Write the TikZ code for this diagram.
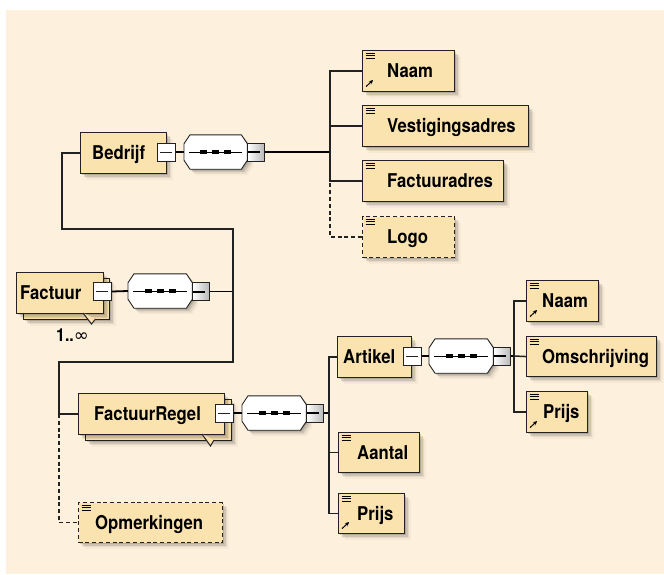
\documentclass[tikz,border=0pt]{standalone}
\usepackage{fontspec}
\setmainfont{TeX Gyre Heros}[FakeStretch=0.88]
\newfontfamily\dvsans{DejaVu Sans}
\usetikzlibrary{shadows,arrows.meta}

\definecolor{paper}{RGB}{253,240,220}
\definecolor{elfill}{RGB}{251,227,176}
\definecolor{edge}{RGB}{34,34,34}

% three short bars in the top-left corner of a simple element
\newcommand\elLines{\foreach \k in {3,5.3,7.6}{\draw[solid,line width=0.9pt,black]
  ([xshift=3pt,yshift=-\k pt]path picture bounding box.north west) -- ++(9.5pt,0pt);}}
% reference arrow in the bottom-left corner
\newcommand\elRef{\draw[solid,line width=1pt,black,-{Stealth[length=4pt,width=4pt]}]
  ([xshift=3.5pt,yshift=5pt]path picture bounding box.south west) -- ++(7pt,6.5pt);}

% element box: name, style, x1, y1, x2, y2, text x, baseline, text
\newcommand\elem[9]{%
  \node[#2, minimum width={#5-#3}, minimum height={#6-#4}] (#1) at (#3,#4) {};
  \node[lbl] (#1-t) at (#7,#8) {#9};}

% sequence compositor: name, x of left edge, centre y, width
\newcommand\seqoct[4]{%
  \node[octframe, minimum width=#4pt] (#1) at (#2,#3) {};
  \path[octline, soft shadow]
    ([xshift=6pt]#1.north west) -- ([xshift=-6pt]#1.north east) --
    ([yshift=-9pt]#1.north east) -- ([yshift=9pt]#1.south east) --
    ([xshift=-6pt]#1.south east) -- ([xshift=6pt]#1.south west) --
    ([yshift=9pt]#1.south west) -- ([yshift=-9pt]#1.north west) -- cycle;
  \draw[line width=0.7pt,black] ([xshift=5pt]#1.west) -- ([xshift=-5pt]#1.east);
  \foreach \dx in {-12,0,12}{\fill[black]
    ([xshift=\dx pt-3.5pt,yshift=-2pt]#1.center) rectangle ++(7pt,4pt);}}

\tikzset{
  soft shadow/.style={
    drop shadow={shadow xshift=1.5pt,shadow yshift=-1.5pt,opacity=.14,fill=black},
    drop shadow={shadow xshift=3pt,shadow yshift=-3pt,opacity=.10,fill=black},
    drop shadow={shadow xshift=4.5pt,shadow yshift=-4.5pt,opacity=.06,fill=black},
    drop shadow={shadow xshift=6pt,shadow yshift=-6pt,opacity=.03,fill=black}},
  elbox/.style={draw=edge, fill=elfill, line width=1.1pt, inner sep=0pt,
    anchor=north west, soft shadow},
  optional/.style={dash pattern=on 4pt off 2.8pt},
  simple/.style={elbox, path picture={\elLines}},
  refsimple/.style={elbox, path picture={\elLines\elRef}},
  lbl/.style={anchor=base west, inner sep=0pt,
    font=\fontsize{19}{22}\selectfont\bfseries, text=black},
  minusbox/.style={draw=edge, fill=white, line width=0.9pt, inner sep=0pt,
    minimum width=18pt, minimum height=18pt, anchor=west,
    path picture={\draw[line width=0.7pt,edge]
      ([xshift=3pt]path picture bounding box.west) --
      ([xshift=-3pt]path picture bounding box.east);}},
  capbox/.style={draw=edge, left color=white, right color=black!28, line width=0.9pt,
    inner sep=0pt, minimum width=17pt, minimum height=18pt, anchor=west,
    path picture={\draw[line width=2pt,black]
      ([xshift=1pt]path picture bounding box.west) --
      ([xshift=-4pt]path picture bounding box.east);}},
  octframe/.style={rectangle, inner sep=0pt, minimum height=34pt, anchor=west},
  octline/.style={draw=edge, fill=white, line width=0.9pt, line join=miter},
  tree/.style={draw=edge, line width=1.2pt},
  busline/.style={draw=black, line width=1.8pt},
  notch/.style={draw=edge, fill=elfill, line width=1pt, line join=miter},
}

\begin{document}
\begin{tikzpicture}[x=1pt,y=-1pt]
\useasboundingbox (0,0) rectangle (664,574);
\fill[paper] (6,10) rectangle (664,574);

% ---------- root: Factuur ----------
\node[elbox, minimum width=86pt, minimum height=41pt] (facB) at (23,278) {};
\elem{fac}{elbox}{16}{272}{103}{313}{20}{299.5}{Factuur}
\path[notch] (83,313) -- (91.5,324) -- (95.5,319);
\node[anchor=base west, inner sep=0pt, font=\fontsize{18}{20}\selectfont\bfseries] (mult)
  at (56,341) {1..{\dvsans\mdseries ∞}};
\node[minusbox] (Fm) at (93,291.5) {};
\seqoct{Fo}{128}{291}{64}
\node[capbox] (Fr) at (192,291.5) {};
\draw[busline] (Fm.east) -- (Fo.west);
\coordinate (busF) at (233,291.5);
\coordinate (busFtop) at (233,229);
\coordinate (busFbot) at (233,362);
\coordinate (kB) at (62,229);
\coordinate (kR) at (59,362);
\draw[busline, line width=1.5pt] (Fr.east) -- (busF);

% ---------- Bedrijf ----------
\elem{bed}{elbox}{80}{132}{166}{173}{92}{159.5}{Bedrijf}
\node[minusbox] (Bm) at (157,152) {};
\seqoct{Bo}{184}{152}{63}
\node[capbox] (Br) at (247,152) {};
\draw[busline] (Bm.east) -- (Bo.west);
\coordinate (busB) at (330,152);
\draw[busline, line width=1.5pt] (Br.east) -- (busB);

\elem{naamA}{refsimple}{362}{50}{454}{91}{387}{77.5}{Naam}
\elem{vest}{simple}{362}{105}{528}{146}{387}{132.5}{Vestigingsadres}
\elem{fadres}{simple}{362}{160}{503}{201}{387}{187.5}{Factuuradres}
\elem{logo}{simple,optional}{362}{216}{454}{257}{387}{243.5}{Logo}

\draw[tree] (naamA.west) -| (busB);
\draw[tree] (vest.west) -| (busB);
\draw[tree] (fadres.west) -| (busB);
\draw[tree, optional] (logo.west) -| (fadres.west -| busB);

% ---------- FactuurRegel ----------
\node[elbox, minimum width=146pt, minimum height=41pt] (fregB) at (85,399) {};
\elem{freg}{elbox}{78}{393}{224}{434}{94}{420.5}{FactuurRegel}
\path[notch] (202,434) -- (210.5,446) -- (214,440);
\node[minusbox] (Rm) at (215,413) {};
\seqoct{Ro}{242}{413}{64}
\node[capbox] (Rr) at (306,413) {};
\draw[busline] (Rm.east) -- (Ro.west);
\coordinate (busR) at (329,413);
\draw[busline, line width=1.5pt] (Rr.east) -- (busR);

\elem{opm}{simple,optional}{78}{502}{222}{542}{95}{529}{Opmerkingen}

% links from the Factuur sequence to its children
\draw[tree] (bed.west) -| (kB) -- (busFtop) -- (busFbot) -- (kR) |- (freg.west);
\draw[tree, optional] (freg.west -| kR) |- (opm.west);

% ---------- Artikel ----------
\elem{art}{elbox}{337}{336}{411}{377}{343}{363.5}{Artikel}
\node[minusbox] (Am) at (403,356) {};
\seqoct{Ao}{429}{356}{64}
\node[capbox] (Ar) at (493,356) {};
\draw[busline] (Am.east) -- (Ao.west);
\coordinate (busA) at (514,356);
\draw[busline, line width=1.5pt] (Ar.east) -- (busA);

\elem{naamB}{refsimple}{526}{280}{598}{321}{542}{307.5}{Naam}
\elem{omsch}{simple}{526}{336}{656}{376}{542}{363}{Omschrijving}
\elem{prijsA}{refsimple}{526}{391}{587}{432}{543}{418.5}{Prijs}

\draw[tree] (naamB.west) -| (busA);
\draw[tree, line width=1.5pt] (omsch.west) -- (busA);
\draw[tree] (prijsA.west) -| (busA);

% ---------- remaining FactuurRegel children ----------
\elem{aantal}{simple}{338}{432}{419}{472}{357}{459}{Aantal}
\elem{prijsB}{refsimple}{338}{493}{404}{533}{357}{520}{Prijs}

\draw[tree] (art.west) -| (busR);
\draw[tree] (aantal.west) -| (busR);
\draw[tree] (prijsB.west) -| (busR);
\end{tikzpicture}
\end{document}
